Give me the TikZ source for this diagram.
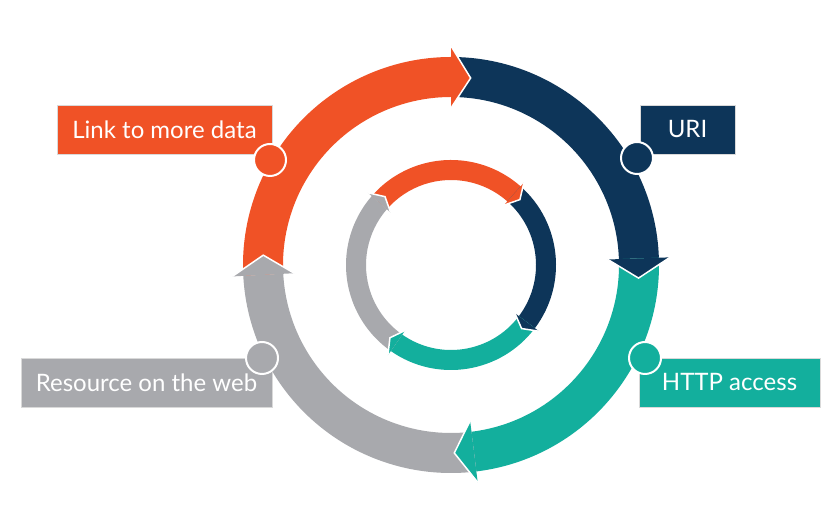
\documentclass[tikz,border=0pt]{standalone}
\usepackage{fontspec}
\setsansfont{Lato}
\definecolor{cOrange}{RGB}{240,82,38}
\definecolor{cNavy}{RGB}{13,53,89}
\definecolor{cTeal}{RGB}{19,175,157}
\definecolor{cGray}{RGB}{168,169,173}
% one coloured piece of a ring: radius, half width, colour, from angle, to angle
\newcommand{\ringpart}[5]{%
  \pgfmathsetmacro\rOut{#1+#2}\pgfmathsetmacro\rIn{#1-#2}%
  \fill[#3] (#4:\rOut pt) arc[start angle=#4, end angle=#5, radius=\rOut pt]
    -- (#5:\rIn pt) arc[start angle=#5, end angle=#4, radius=\rIn pt] -- cycle;}
% arrow head: radius, half width, length (deg), colour, base angle
\newcommand{\ringhead}[5]{%
  \pgfmathsetmacro\rOut{#1+#2}\pgfmathsetmacro\rIn{#1-#2}\pgfmathsetmacro\tipA{#5-#3}%
  \fill[#4] (#5:\rOut pt) -- (\tipA:#1pt) -- (#5:\rIn pt) -- cycle;
  \draw[white,line width=1.5pt] (#5:\rOut pt) -- (\tipA:#1pt) -- (#5:\rIn pt);}
\begin{document}
\begin{tikzpicture}[x=1pt,y=1pt,
                lab/.style={rectangle,draw=white!85!black,line width=0.6pt,text=white,
                inner sep=0pt,minimum height=49pt,font=\sffamily\fontsize{24}{28}\selectfont},
                dot/.style={circle,draw=white,line width=2pt,
                inner sep=0pt,minimum size=32pt}]
                \useasboundingbox (0,0) rectangle (840,510);
                \fill[white] (0,0) rectangle (840,510);
                % labels
                \node (link) at (164.5,380) [lab,fill=cOrange,minimum width=215pt] {Link to more data};
                \node (uri) at (687.5,380.5) [lab,fill=cNavy,minimum width=95pt] {URI};
                \node (http) at (729.5,127.5) [lab,fill=cTeal,minimum width=181pt] {HTTP access};
                \node (res) at (146.5,127.5) [lab,fill=cGray,minimum width=251pt] {Resource on the web};
                % rings
                \begin{scope}[shift={(451,245)}]
                \foreach \col/\aa/\ab in {cOrange/183/90,cNavy/90/2,cTeal/2/-83,cGray/-83/-177}
                    \ringpart{188}{20}{\col}{\aa}{\ab};
                \foreach \col/\aa/\ab in {cOrange/139/48.5,cNavy/48.5/-37,cTeal/-37/-125,cGray/-125/-221}
                    \ringpart{95}{10}{\col}{\aa}{\ab};
                \foreach \col/\b in {cOrange/90,cNavy/2,cTeal/-83,cGray/-177}
                    \ringhead{188}{31}{6}{\col}{\b};
                \foreach \col/\b in {cOrange/48.5,cNavy/-37,cTeal/-125,cGray/-221}
                    \ringhead{95}{15}{5}{\col}{\b};
                \end{scope}
                % dots on the outer ring
                \node (d1) at (270,350) [dot,fill=cOrange] {};
                \node (d2) at (637,352) [dot,fill=cNavy] {};
                \node (d3) at (645,152) [dot,fill=cTeal] {};
                \node (d4) at (262,152) [dot,fill=cGray] {};
\end{tikzpicture}
\end{document}
